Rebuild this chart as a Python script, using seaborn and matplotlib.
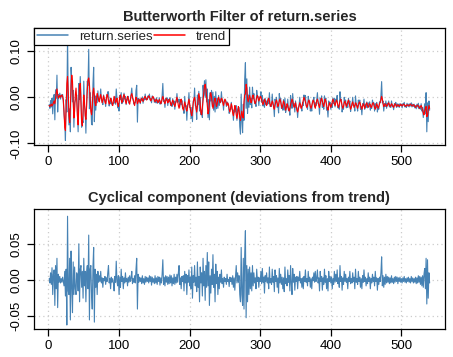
import numpy as np
import pandas as pd
import matplotlib
matplotlib.use('Agg')
import matplotlib.pyplot as plt
import seaborn as sns

# trend (Butterworth low-pass) in thousandths
trend_k = [
    -18, -20, -17, -15, -19, -16, -12, -8, -14, -4,
    10, 18, 6, -2, 2, 4, 0, 3, 5, 2,
    -6, -30, -65, -72, -20, 30, 45, 10, -40, -55,
    -20, 25, 48, 35, -10, -45, -30, 5, 20, -5,
    -40, -60, -20, 25, 30, -15, -55, -62, -30, 5,
    -10, -40, -48, -20, 15, 38, 42, 30, -5, -30,
    -38, -20, 10, 20, 5, -12, -18, -5, 8, 2,
    -5, -10, 0, 6, -2, -12, -6, 3, -3, -10,
    -14, -4, 6, 2, -8, -15, -10, -2, -6, -14,
    -18, -8, 2, -4, -12, -8, -2, -15, -20, -10,
    0, 5, -5, -12, -8, 2, 6, 0, -8, -14,
    -6, 2, -2, -10, -15, -6, 4, 8, 2, -6,
    -12, -18, -8, 0, -4, -14, -10, -4, -8, -12,
    -6, -2, -5, -9, -4, 0, 2, -2, -6, -3,
    0, 3, 1, -4, -8, -5, -1, 2, -2, -6,
    -10, -8, -4, -7, -12, -9, -5, -8, -14, -10,
    -4, 2, -3, -10, -14, -8, -3, -6, -12, -9,
    -4, -8, -14, -18, -12, -6, -10, -16, -20, -14,
    -6, 0, -8, -18, -24, -16, -8, -4, -12, -22,
    -28, -20, -10, -16, -26, -30, -22, -12, -4, -14,
    -26, -34, -40, -28, -14, -4, 0, -10, -24, -32,
    -20, -6, 8, 0, -18, -34, -38, -22, -4, 12,
    24, 28, 18, 0, -20, -36, -30, -14, 4, 10,
    0, -14, -24, -18, -6, -2, -10, -20, -14, -4,
    0, -6, -12, -8, -2, -4, -12, -18, -10, -4,
    -8, -14, -18, -12, -16, -26, -32, -24, -14, -20,
    -34, -40, -30, -18, -24, -38, -46, -36, -20, -28,
    -44, -50, -38, -30, -42, -45, -10, 5, 7, 28,
    20, -5, -10, -2, 4, -4, -12, -8, 2, 5,
    -2, -10, -14, -8, 0, 4, -2, -8, -4, 2,
    0, -6, -12, -16, -10, -4, -8, -14, -18, -12,
    -6, -2, -8, -16, -20, -14, -8, -12, -22, -26,
    -18, -10, -6, -12, -20, -16, -8, -4, -10, -18,
    -24, -16, -8, -12, -20, -28, -22, -14, -18, -26,
    -30, -24, -16, -10, -4, -8, -16, -22, -18, -12,
    -20, -28, -32, -26, -18, -12, -16, -24, -20, -14,
    -6, 0, -4, -10, -16, -22, -18, -10, -6, -12,
    -20, -24, -18, -12, -6, -10, -18, -24, -16, -8,
    -4, -10, -18, -22, -14, -6, -2, -8, -16, -20,
    -12, -4, -8, -16, -24, -28, -20, -12, -16, -22,
    -18, -10, -4, -8, -14, -18, -12, -6, -10, -18,
    -22, -16, -8, -4, -10, -18, -24, -20, -12, -8,
    -14, -20, -16, -10, -6, -12, -20, -26, -22, -14,
    -10, -16, -22, -18, -12, -14, -20, -24, -18, -12,
    -10, -16, -22, -26, -20, -14, -18, -24, -20, -14,
    -12, -18, -22, -18, -14, -16, -22, -20, -14, -12,
    -16, -22, -26, -20, -14, -18, -24, -20, -14, -10,
    -6, 2, -4, -14, -20, -18, -14, -16, -20, -18,
    -14, -12, -16, -20, -18, -14, -16, -20, -22, -18,
    -14, -16, -20, -18, -16, -18, -20, -18, -15, -17,
    -19, -17, -15, -16, -18, -20, -18, -16, -17, -19,
    -18, -16, -15, -17, -19, -18, -16, -17, -20, -22,
    -20, -18, -17, -19, -22, -24, -20, -18, -22, -28,
    -34, -38, -30, -24, -20, -42, -40, -28, -18, -24,
]

# cyclical component (deviations from trend) in thousandths
cycle_k = [
    2, -4, 10, -6, 17, -20, 8, 14, -35, 20,
    -12, 30, -38, 8, -3, 5, -4, 2, -3, 4,
    -2, -8, 12, -22, 15, -62, 88, -15, -20, 30,
    -55, 40, -10, -45, 25, -20, 18, -12, -20, 10,
    5, -15, 50, -30, 15, 20, -10, 12, -25, 30,
    -8, 12, -30, 10, 20, -12, 62, -55, 15, 20,
    -20, -40, 18, 45, -58, 15, -10, 8, -20, 12,
    -3, 6, -2, 12, -4, 3, -10, 2, -1, 5,
    -6, 3, -2, 10, 20, -4, 2, -12, 4, -3,
    2, -4, -15, 5, -3, 26, -2, -8, 6, -20,
    4, -10, 15, -2, 5, -12, 3, -4, 10, -2,
    2, -8, 4, -3, 6, -2, 3, 12, -5, 2,
    -3, 6, -4, 15, 30, -40, 8, -3, 4, -2,
    3, -5, 6, -4, 2, -6, 5, -3, 4, -2,
    3, -4, 6, -2, 5, -7, 4, -3, 2, -5,
    6, -4, 3, -6, 5, -2, 4, -7, 3, -4,
    8, 28, -6, 4, -8, 6, -3, 5, -6, 4,
    -5, 7, -4, 6, -8, 3, -5, 8, -6, 4,
    -4, 8, -3, 10, 20, -6, 3, -12, 5, -2,
    6, -15, 12, -4, 8, -20, 6, -3, 14, -8,
    4, -12, 18, -25, 6, -3, 20, -8, 4, -16,
    25, -10, 5, -30, 18, -4, 10, -22, 30, -8,
    12, -28, 20, -10, 38, -8, 25, -35, 6, -18,
    15, -6, 35, -10, 8, -30, 22, -5, 12, -20,
    4, -12, 8, -3, 14, -5, 2, -10, 4, -2,
    2, -6, 8, -2, 1, -9, 4, -2, 3, -6,
    6, -10, 3, -14, 5, 20, -4, 10, -3, 6,
    -20, -30, 45, -20, -35, 30, -40, 35, 68, -52,
    20, -30, 15, -20, 18, -12, 10, -15, 20, -8,
    10, -4, 3, -12, 15, -2, 4, -10, 3, -2,
    12, -5, 16, -3, 4, -18, 6, -2, 10, -4,
    3, -12, 18, -4, 2, -6, 15, -3, 5, -16,
    14, -2, 6, -10, 3, -18, 16, -4, 8, -6,
    4, -12, 3, -16, 18, -5, 2, -8, 14, -3,
    6, -15, 20, -4, -20, 16, -3, 8, -14, 4,
    -2, 5, -12, 4, -1, 12, -4, 2, -10, 3,
    -12, 5, -2, 14, -3, 2, -8, 12, -2, 4,
    -10, 2, -12, 4, -1, 10, -3, 12, -2, 2,
    14, -4, 3, -15, 12, -2, 5, -14, 3, -6,
    15, -3, 6, -12, 2, -15, 12, -2, 5, -4,
    4, -12, 2, -6, 12, -3, 8, -2, 14, -5,
    3, -10, 20, -2, 5, -14, 3, -6, 12, -2,
    8, -3, 2, -12, 4, -2, 12, -5, 2, -4,
    10, -2, 4, -12, 15, -3, 2, -6, 12, -2,
    4, -10, 2, -12, 6, -3, 14, -2, 4, -8,
    2, -5, 10, -2, 4, -12, 2, -4, 8, -2,
    4, -8, 12, -2, 3, -14, 2, -6, 4, -2,
    10, 32, -8, 6, -10, 4, -6, 8, -4, 5,
    -3, 4, -5, 3, -4, 6, -3, 2, -5, 4,
    -3, 5, -2, 4, -5, 3, -2, 4, -3, 2,
    -4, 3, -2, 5, -3, 2, -4, 3, -2, 4,
    -3, 2, -4, 5, -2, 3, -4, 2, -3, 4,
    -5, 3, -4, 6, -3, 5, -6, 4, -8, 6,
    -10, 8, 16, -12, 30, -33, 28, -25, 10, -4,
]

x_ticks = [0, 100, 200, 300, 400, 500]
y_ticks_top = [-0.10, 0.00, 0.10]
y_ticks_bot = [-0.05, 0.00, 0.05]

assert len(trend_k) == len(cycle_k), (len(trend_k), len(cycle_k))

trend = np.array(trend_k) / 1000.0
cycle = np.array(cycle_k) / 1000.0
ret = trend + cycle
t = np.arange(1, len(ret) + 1)

df = pd.DataFrame({'t': t, 'return.series': ret, 'trend': trend, 'cycle': cycle})

sns.set_style('white')
plt.rcParams['font.family'] = ['Liberation Sans', 'DejaVu Sans']

fig = plt.figure(figsize=(4.53, 3.57), dpi=100)
ax1 = fig.add_axes([0.075, 0.594, 0.907, 0.328])
ax2 = fig.add_axes([0.075, 0.078, 0.907, 0.336])

blue = '#4682B4'


def style_axis(ax, yticks, ylo, yhi):
    n = len(t)
    pad = (n - 1) * 0.04
    ax.set_xlim(1 - pad, n + pad)
    ax.set_ylim(ylo, yhi)
    ax.set_xticks(x_ticks)
    ax.set_yticks(yticks)
    ax.set_yticklabels([f'{v:.2f}' for v in yticks], rotation=90, va='center')
    ax.set_xlabel('')
    ax.set_ylabel('')
    for v in x_ticks:
        ax.axvline(v, color='#cccccc', lw=0.9, ls=(0, (1, 2.5)), zorder=0)
    for v in yticks:
        ax.axhline(v, color='#cccccc', lw=0.9, ls=(0, (1, 2.5)), zorder=0)
    for s in ax.spines.values():
        s.set_color('black')
        s.set_linewidth(0.9)
    ax.tick_params(direction='out', length=5, width=0.9, colors='black',
                   labelsize=9.5, bottom=True, left=True, pad=3)


# top panel: series + trend
sns.lineplot(data=df, x='t', y='return.series', ax=ax1, color=blue, lw=0.8,
             label='return.series')
sns.lineplot(data=df, x='t', y='trend', ax=ax1, color='red', lw=0.8,
             label='trend')
style_axis(ax1, y_ticks_top, -0.1035, 0.1507)
ax1.set_title('Butterworth Filter of return.series', fontsize=10.5,
              fontweight='bold', pad=5)
leg = ax1.legend(loc='upper left', ncol=2, frameon=True, fancybox=False,
                 borderaxespad=0, fontsize=9.5, handlelength=2.4,
                 columnspacing=0.1, handletextpad=0.8, borderpad=0.2)
leg.get_frame().set_edgecolor('black')
leg.get_frame().set_linewidth(0.9)
leg.get_frame().set_alpha(1)
for h in leg.get_lines():
    h.set_linewidth(1.1)

# bottom panel: cyclical component
sns.lineplot(data=df, x='t', y='cycle', ax=ax2, color=blue, lw=0.8)
style_axis(ax2, y_ticks_bot, -0.0677, 0.0977)
ax2.set_title('Cyclical component (deviations from trend)', fontsize=10.5,
              fontweight='bold', pad=5)

fig.savefig('out.png', dpi=100)
